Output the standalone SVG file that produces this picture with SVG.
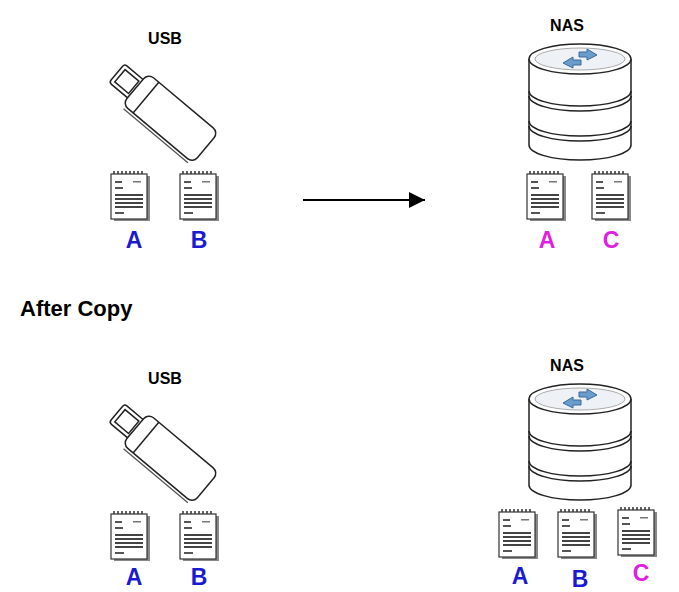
<svg xmlns="http://www.w3.org/2000/svg" width="679" height="592" viewBox="0 0 679 592">
<style>
.t{font-family:"Liberation Sans",Arial,sans-serif;font-weight:bold}
.ln{fill:#fff;stroke:#222;stroke-width:1.5}
.blue{fill:#1a1ad0;font-size:23px}
.mag{fill:#e020e0;font-size:23px}
</style>
<defs>
<symbol id="doc" viewBox="0 0 40 50" width="40" height="50" overflow="visible">
<rect x="3" y="4" width="36" height="45" fill="#888"/>
<rect x="0" y="2" width="36" height="45" fill="#fff" stroke="#333" stroke-width="1.2"/>
<path d="M3 2v-3M7 2v-3M11 2v-3M15 2v-3M19 2v-3M23 2v-3M27 2v-3M31 2v-3" stroke="#333" stroke-width="1.5"/>
<rect x="4" y="9" width="7" height="2" fill="#555"/>
<rect x="22" y="9" width="8" height="1.5" fill="#777"/>
<rect x="4" y="15" width="8" height="2" fill="#555"/>
<rect x="4" y="22" width="28" height="2" fill="#444"/>
<rect x="4" y="26" width="28" height="2" fill="#444"/>
<rect x="4" y="30" width="28" height="2" fill="#444"/>
<rect x="4" y="34" width="28" height="2" fill="#444"/>
<rect x="4" y="40" width="9" height="2" fill="#555"/>
</symbol>
<symbol id="usb" viewBox="0 0 100 100" width="100" height="100" overflow="visible">
<g transform="rotate(40 50 50)">
<rect x="-8" y="36" width="26" height="24" rx="3" class="ln"/>
<rect x="-4" y="40" width="18" height="16" class="ln"/>
<rect x="16" y="28" width="92" height="40" rx="7" class="ln"/>
<path d="M30 28v40" class="ln"/>
<path d="M20 71h84" stroke="#555" stroke-width="1.3" fill="none"/>
</g>
</symbol>
<symbol id="nas" viewBox="0 0 106 122" width="106" height="122" overflow="visible">
<path d="M2 18v86a51 15 0 0 0 102 0v-86" class="ln"/>
<path d="M2 50a51 15 0 0 0 102 0M2 55a51 15 0 0 0 102 0M2 80a51 15 0 0 0 102 0M2 85a51 15 0 0 0 102 0" fill="none" stroke="#222" stroke-width="1.5"/>
<ellipse cx="53" cy="18" rx="51" ry="15" class="ln"/>
<ellipse cx="53" cy="18" rx="45" ry="11" fill="#eef2f6" stroke="#aaa"/>
<path d="M36 22l10-6v3h8v5h-8v3z" fill="#6a9ccc" stroke="#3a6a9a"/>
<path d="M70 14l-10-6v3h-8v5h8v3z" fill="#6a9ccc" stroke="#3a6a9a"/>
</symbol>
<marker id="ah" viewBox="0 0 10 10" refX="10" refY="5" markerWidth="8" markerHeight="8" orient="auto"><path d="M0 0L10 5L0 10z" fill="#000"/></marker>
</defs>
<g id="top-usb">
<text class="t" x="165" y="44" font-size="16" text-anchor="middle">USB</text>
<use href="#usb" x="110" y="62"/>
</g>
<g id="top-usb-docs">
<use href="#doc" x="111" y="172"/><use href="#doc" x="180" y="172"/>
<text class="t blue" x="134" y="248" text-anchor="middle">A</text>
<text class="t blue" x="199" y="248" text-anchor="middle">B</text>
</g>
<g id="top-nas">
<text class="t" x="567" y="31" font-size="16" text-anchor="middle">NAS</text>
<use href="#nas" x="527" y="41"/>
<use href="#doc" x="527" y="172"/><use href="#doc" x="592" y="172"/>
<text class="t mag" x="547" y="248" text-anchor="middle">A</text>
<text class="t mag" x="611" y="248" text-anchor="middle">C</text>
</g>
<g id="connectors">
<line x1="303" y1="200" x2="425" y2="200" stroke="#000" stroke-width="2" marker-end="url(#ah)"/>
</g>
<text class="t" x="20" y="316" font-size="22">After Copy</text>
<g id="bottom-usb">
<text class="t" x="165" y="384" font-size="16" text-anchor="middle">USB</text>
<use href="#usb" x="110" y="402"/>
<use href="#doc" x="111" y="512"/><use href="#doc" x="180" y="512"/>
<text class="t blue" x="134" y="585" text-anchor="middle">A</text>
<text class="t blue" x="199" y="585" text-anchor="middle">B</text>
</g>
<g id="bottom-nas">
<text class="t" x="567" y="371" font-size="16" text-anchor="middle">NAS</text>
<use href="#nas" x="527" y="381"/>
<use href="#doc" x="499" y="510"/><use href="#doc" x="558" y="510"/><use href="#doc" x="618" y="508"/>
<text class="t blue" x="520" y="584" text-anchor="middle">A</text>
<text class="t blue" x="580" y="587" text-anchor="middle">B</text>
<text class="t mag" x="641" y="581" text-anchor="middle">C</text>
</g>
</svg>
